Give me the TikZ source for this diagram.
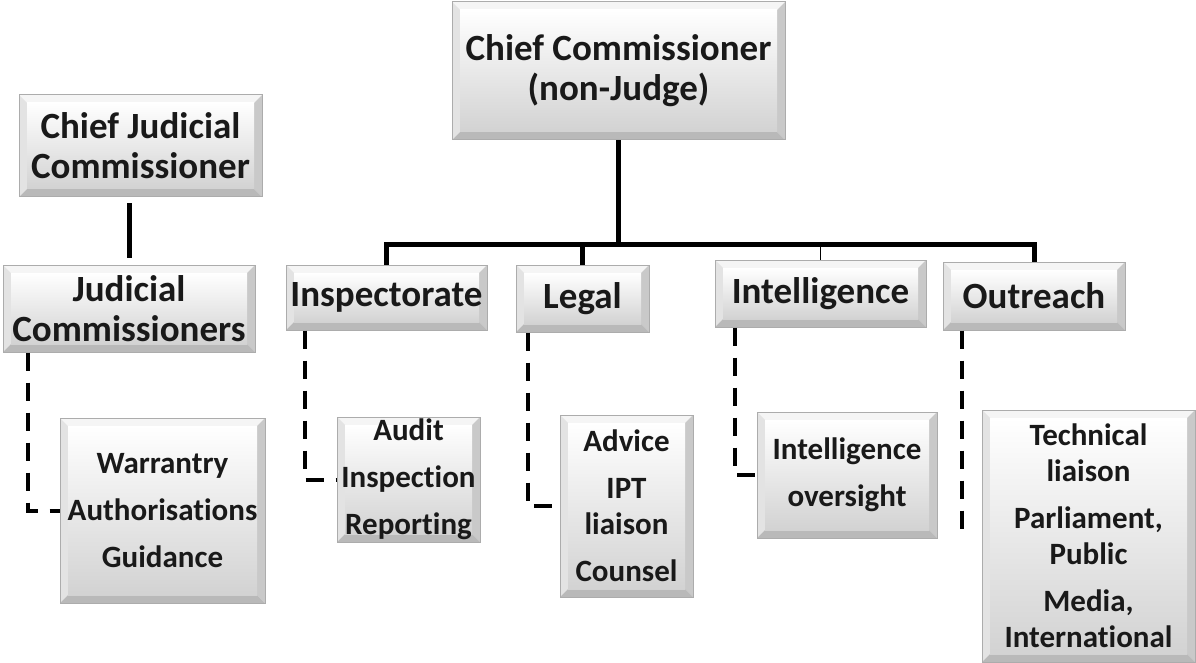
\documentclass[tikz,border=0pt]{standalone}
\usepackage{fontspec}
\setmainfont{Carlito}[RawFeature={-liga;-clig;-calt;-dlig}]
\newcommand\nolig{\kern0pt}
\tikzset{
  box/.style={inner sep=2pt, align=center, text=black!90, draw=gray!65, line width=1pt,
    path picture={
      \coordinate (bnw) at (path picture bounding box.north west);
      \coordinate (bne) at (path picture bounding box.north east);
      \coordinate (bsw) at (path picture bounding box.south west);
      \coordinate (bse) at (path picture bounding box.south east);
      \fill[gray!8] (bnw) -- (bne) -- ([shift={(-8pt,-8pt)}]bne) -- ([shift={(8pt,-8pt)}]bnw) -- cycle;
      \fill[gray!22] (bnw) -- (bsw) -- ([shift={(8pt,8pt)}]bsw) -- ([shift={(8pt,-8pt)}]bnw) -- cycle;
      \fill[gray!42] (bne) -- (bse) -- ([shift={(-8pt,8pt)}]bse) -- ([shift={(-8pt,-8pt)}]bne) -- cycle;
      \fill[gray!55] (bsw) -- (bse) -- ([shift={(-8pt,8pt)}]bse) -- ([shift={(8pt,8pt)}]bsw) -- cycle;
      \shade[top color=white, bottom color=gray!35] ([shift={(8pt,-8pt)}]bnw) rectangle ([shift={(-8pt,8pt)}]bse);
    }},
  head/.style={box, font=\fontsize{37}{40}\selectfont\bfseries},
  task/.style={box, font=\fontsize{31}{36}\selectfont\bfseries},
  conn/.style={line width=5pt},
  thinconn/.style={line width=1.5pt},
  dashconn/.style={line width=4pt, dash pattern=on 18pt off 12pt}
}

\begin{document}
\begin{tikzpicture}[x=1pt, y=-1pt]
    \useasboundingbox (0,0) rectangle (1196,663);

    % heads
    \node [head, minimum width=333pt, minimum height=138pt] (cc) at (618.5,71) {Chief Commissioner\\(non-Judge)};
    \node [head, minimum width=243pt, minimum height=102pt] (cjc) at (140.5,146) {Chief Judicial\\Commissioner};
    \node [head, minimum width=252pt, minimum height=87pt] (jc) at (129,308.5) {Judicial\\Commissioners};
    \node [head, minimum width=201pt, minimum height=65pt] (insp) at (386.5,297.5) {Inspectorate};
    \node [head, minimum width=133pt, minimum height=67pt] (legal) at (582.5,298.5) {Legal};
    \node [head, minimum width=211pt, minimum height=67pt] (intel) at (820.5,293.5) {Intelligence};
    \node [head, minimum width=182pt, minimum height=68pt] (outr) at (1034,296) {Outreach};

    % tasks
    \node [task, minimum width=205pt, minimum height=185pt] (warr) at (162.5,510.5) {Warrantry\\[11pt]Authorisat\nolig ions\\[11pt]Guidance};
    \node [task, minimum width=143pt, minimum height=125pt] (audit) at (408.5,479.5) {Audit\\[11pt]Inspect\nolig ion\\[11pt]Reporting};
    \node [task, minimum width=133pt, minimum height=182pt] (advice) at (626.5,506) {Advice\\[11pt]IPT\\liaison\\[11pt]Counsel};
    \node [task, minimum width=180pt, minimum height=126pt] (ovs) at (847,475) {Intelligence\\[11pt]oversight};
    \node [task, minimum width=213pt, minimum height=252pt] (tech) at (1088.5,536) {Technical\\liaison\\[11pt]Parliament,\\Public\\[11pt]Media,\\Internat\nolig ional};

    % solid lines
    \coordinate (bus) at (618.5,244);
    \draw [conn] (cc.south) -- (bus);
    \draw [thinconn] (bus) -| (intel.north);
    \draw [conn] (bus) -| (insp.north);
    \draw [conn] (bus) -| (legal.north);
    \draw [conn] (bus) -| (outr.north);
    \draw [conn, shorten <=6pt, shorten >=7pt] (cjc.south -| jc.north) -- (jc.north);

    % dashed lines
    \draw [dashconn] ([xshift=25pt]jc.south west) |- (warr.west);
    \draw [dashconn] ([xshift=19pt]insp.south west) |- (audit.west);
    \draw [dashconn] ([xshift=12pt]legal.south west) |- (advice.west);
    \draw [dashconn] ([xshift=20pt]intel.south west) |- (ovs.west);
    \coordinate (outdash) at ([xshift=19pt]outr.south west);
    \draw [dashconn] (outdash) -- (outdash |- tech.west);
  \end{tikzpicture}
\end{document}
